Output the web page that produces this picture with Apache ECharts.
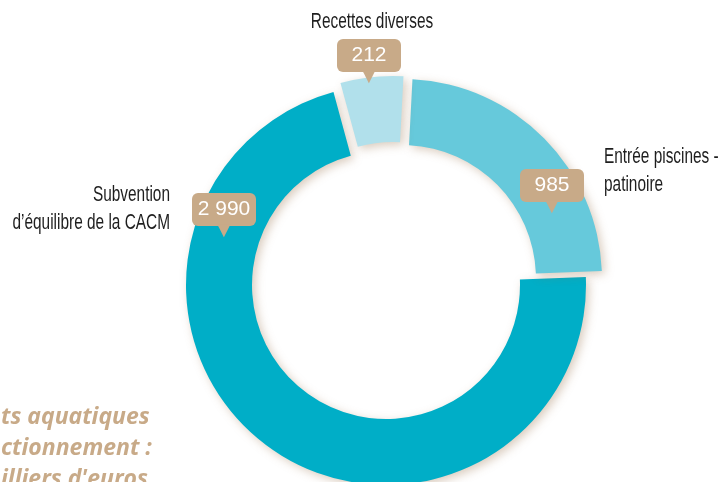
<!DOCTYPE html>
<html>
<head>
<meta charset="utf-8">
<script src="https://cdn.jsdelivr.net/npm/echarts@6/dist/echarts.min.js"></script>
<style>
  html, body { margin: 0; padding: 0; background: #fff; }
  #chart { width: 725px; height: 482px; }
</style>
</head>
<body>
<div id="chart"></div>
<script>
// données (milliers d'euros)
const categories = ['Entrée piscines -\npatinoire', 'Subvention\nd’équilibre de la CACM', 'Recettes diverses'];
const values = [985, 2990, 212];
const titleLines = ['ts aquatiques', 'ctionnement :', 'illiers d\'euros'];

const sliceColors = ['#66C9DB', '#00AEC7', '#B1E0EB'];
const tan = '#C8AA88';
const font = "'Liberation Sans', Arial, sans-serif";

// chaque part a son propre centre (parts détachées)
const centers = [[402, 279], [386, 285], [393, 276]];
// pointe des bulles de valeur
const tips = [[552, 212], [224, 236], [369, 82]];
// étiquettes des noms
const namePos = [
  { x: 604, y: 171, align: 'left' },
  { x: 170, y: 209, align: 'right' },
  { x: 372, y: 22, align: 'center' }
];

const fmt = v => String(v).replace(/\B(?=(\d{3})+(?!\d))/g, ' ');

function sliceSeries (i) {
  return {
    type: 'pie',
    center: centers[i],
    radius: [134, 200],
    startAngle: 87,
    silent: true,
    animation: false,
    labelLine: { show: false },
    label: {
      position: 'inside',
      overflow: 'none',
      formatter: p => '{box|' + fmt(p.value) + '}\n{tip|▼}',
      rich: {
        box: {
          backgroundColor: tan, color: '#fff', borderRadius: 6,
          fontFamily: font, fontSize: 21, width: 44, height: 23,
          align: 'center', padding: [5, 10]
        },
        tip: { color: tan, fontSize: 22, lineHeight: 10, align: 'center' }
      }
    },
    labelLayout: () => ({ x: tips[i][0], y: tips[i][1], align: 'center', verticalAlign: 'bottom' }),
    data: values.map((v, j) => ({
      name: categories[j],
      value: v,
      label: { show: j === i },
      itemStyle: j === i
        ? { color: sliceColors[i], shadowBlur: 10, shadowColor: 'rgba(150,110,70,0.35)', shadowOffsetX: 3, shadowOffsetY: 3 }
        : { color: 'rgba(0,0,0,0)' }
    }))
  }
}

const option = {
  backgroundColor: '#fff',
  title: {
    text: titleLines.join('\n'),
    left: 1,
    top: 402,
    padding: 0,
    textStyle: {
      fontFamily: "'Open Sans', sans-serif", fontStyle: 'italic', fontWeight: 'bold',
      fontSize: 23, lineHeight: 31, color: tan
    }
  },
  // noms des postes, en police resserrée
  graphic: categories.map((c, i) => ({
    type: 'text',
    x: namePos[i].x,
    y: namePos[i].y,
    scaleX: 0.7,
    silent: true,
    style: {
      text: c,
      fill: '#1e1e1e',
      fontFamily: font,
      fontSize: 22,
      lineHeight: 28,
      align: namePos[i].align,
      verticalAlign: 'middle'
    }
  })),
  series: [
    sliceSeries(1),
    sliceSeries(0),
    sliceSeries(2)
  ]
};

const chart = echarts.init(document.getElementById('chart'));
chart.setOption(option);
window.addEventListener('resize', () => chart.resize());
</script>
</body>
</html>
